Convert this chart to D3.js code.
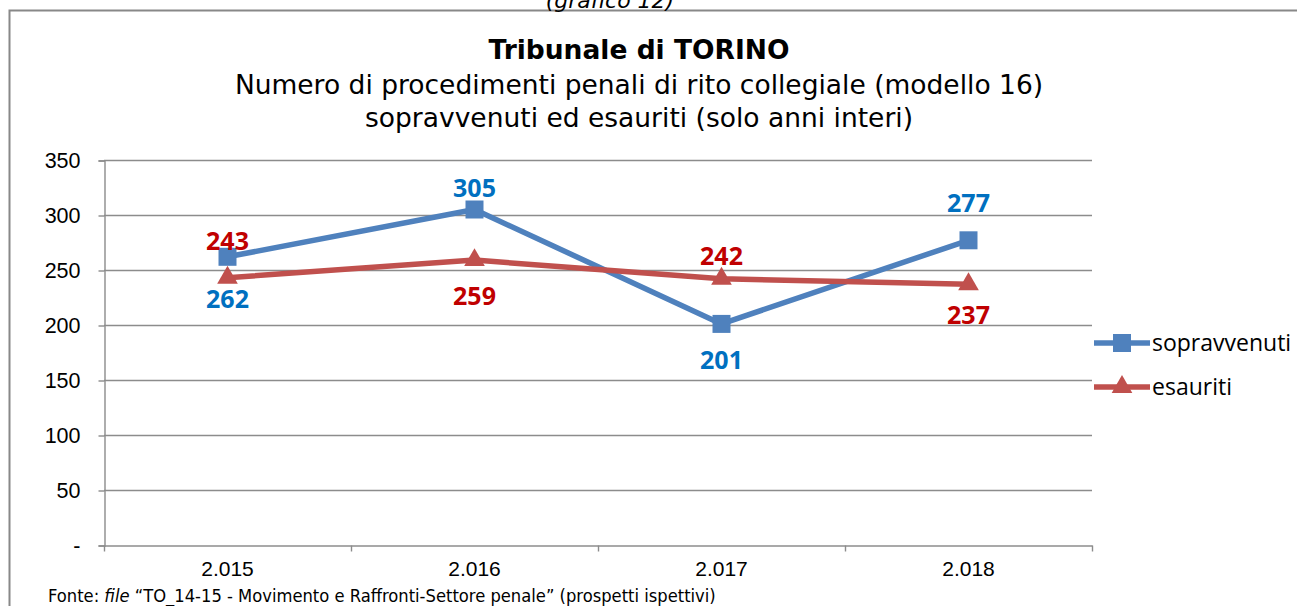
<!DOCTYPE html>
<html>
  <head>
    <meta charset="utf-8">
    <script src="https://d3js.org/d3.v7.min.js"></script>
    <style>
      body { margin: 0; background: #fff; }
      svg text { fill: #000; }
    </style>
  </head>
<body>
  <script type="text/javascript">
    // chart data
    var years = ["2.015", "2.016", "2.017", "2.018"];
    var sopravvenuti = [262, 305, 201, 277];
    var esauriti = [243, 259, 242, 237];
    var yTicks = [0, 50, 100, 150, 200, 250, 300, 350];

    // label baseline offsets from each point (layout, not data)
    var soprLabelDy = [51, -13, 45, -28];
    var esauLabelDy = [-28, 45, -14, 40];

    var W = 1297, H = 606;
    var plot = {left: 104, right: 1092, top: 160, bottom: 545};

    var svg = d3.select("body").append("svg")
        .attr("width", W).attr("height", H);

    // outer frame
    svg.append("rect")
        .attr("x", 9.5).attr("y", 10.5)
        .attr("width", W).attr("height", H)
        .attr("fill", "none").attr("stroke", "#888").attr("stroke-width", 2);

    svg.append("text")
        .attr("x", 610).attr("y", 8)
        .attr("text-anchor", "middle")
        .style("font-family", "DejaVu Sans").style("font-style", "italic")
        .style("font-size", "22px")
        .text("(grafico 12)");

    // titles
    var tfont = "DejaVu Sans";
    svg.append("text").attr("x", 639).attr("y", 59)
        .attr("text-anchor", "middle")
        .style("font-family", tfont).style("font-weight", "bold").style("font-size", "26.5px")
        .text("Tribunale di TORINO");
    svg.append("text").attr("x", 639).attr("y", 94)
        .attr("text-anchor", "middle")
        .style("font-family", tfont).style("font-size", "26.5px")
        .text("Numero di procedimenti penali di rito collegiale (modello 16)");
    svg.append("text").attr("x", 639).attr("y", 127)
        .attr("text-anchor", "middle")
        .style("font-family", tfont).style("font-size", "26.5px")
        .text("sopravvenuti ed esauriti (solo anni interi)");

    var x = d3.scaleBand().domain(years).range([plot.left, plot.right]);
    var y = d3.scaleLinear().domain([0, 350]).range([plot.bottom, plot.top]);
    var cx = function(d, i) { return x(years[i]) + x.bandwidth() / 2; };

    // gridlines
    svg.append("g").selectAll("line").data(yTicks.slice(1)).enter().append("line")
        .attr("x1", plot.left).attr("x2", plot.right)
        .attr("y1", function(d) { return y(d) + 0.5; })
        .attr("y2", function(d) { return y(d) + 0.5; })
        .attr("stroke", "#8c8c8c").attr("stroke-width", 1.4);

    // y axis
    var yAxis = svg.append("g")
        .attr("transform", "translate(" + (plot.left + 0.5) + ",0.5)")
        .call(d3.axisLeft(y).tickValues(yTicks).tickSize(6).tickPadding(18)
            .tickFormat(function(d) { return d === 0 ? "-" : d; }));
    yAxis.selectAll("text").style("font-family", "Liberation Sans").style("font-size", "21.5px");

    // x axis
    var xAxis = svg.append("g")
        .attr("transform", "translate(0," + (plot.bottom + 0.5) + ")")
        .call(d3.axisBottom(x).tickSize(0).tickPadding(16));
    xAxis.selectAll("text").style("font-family", "Liberation Sans").style("font-size", "21px");
    // category dividers
    xAxis.selectAll("line.div").data(d3.range(years.length + 1)).enter().append("line")
        .attr("class", "div")
        .attr("x1", function(i) { return plot.left + i * x.bandwidth() + 0.5; })
        .attr("x2", function(i) { return plot.left + i * x.bandwidth() + 0.5; })
        .attr("y1", 0).attr("y2", 6);
    svg.selectAll(".domain, .tick line, line.div")
        .attr("stroke", "#8c8c8c").attr("stroke-width", 1.4);

    var line = d3.line().x(cx).y(function(d) { return y(d); });

    function series(vals, color, shape, labelColor, dy) {
      svg.append("path").datum(vals)
          .attr("d", line).attr("fill", "none")
          .attr("stroke", color).attr("stroke-width", 5.5)
          .attr("stroke-linejoin", "round");
      svg.append("g").selectAll("path").data(vals).enter().append("path")
          .attr("d", shape)
          .attr("transform", function(d, i) { return "translate(" + cx(d, i) + "," + y(d) + ")"; })
          .attr("fill", color);
      svg.append("g").selectAll("text").data(vals).enter().append("text")
          .attr("x", cx)
          .attr("y", function(d, i) { return y(d) + dy[i]; })
          .attr("text-anchor", "middle")
          .style("font-family", "Open Sans").style("font-weight", "bold").style("font-size", "25px")
          .style("fill", labelColor)
          .text(function(d) { return d; });
    }

    var square = d3.symbol().type(d3.symbolSquare).size(324)();
    var triangle = d3.symbol().type(d3.symbolTriangle).size(185)();

    series(sopravvenuti, "#4F81BD", square, "#0070C0", soprLabelDy);
    series(esauriti, "#C0504D", triangle, "#C00000", esauLabelDy);

    // legend
    var legend = [
      {name: "sopravvenuti", color: "#4F81BD", shape: square, y: 343},
      {name: "esauriti", color: "#C0504D", shape: triangle, y: 387}
    ];
    var lg = svg.append("g").selectAll("g").data(legend).enter().append("g");
    lg.append("line")
        .attr("x1", 1094).attr("x2", 1150)
        .attr("y1", function(d) { return d.y; }).attr("y2", function(d) { return d.y; })
        .attr("stroke", function(d) { return d.color; }).attr("stroke-width", 5.5);
    lg.append("path")
        .attr("d", function(d) { return d.shape; })
        .attr("transform", function(d) { return "translate(1122," + d.y + ")"; })
        .attr("fill", function(d) { return d.color; });
    lg.append("text")
        .attr("x", 1152).attr("y", function(d) { return d.y + 8; })
        .style("font-family", "Open Sans").style("font-size", "23px")
        .text(function(d) { return d.name; });

    // footnote
    var fn = svg.append("text").attr("x", 48).attr("y", 602)
        .style("font-family", "DejaVu Sans Condensed, DejaVu Sans").style("font-size", "18.2px");
    fn.append("tspan").text("Fonte: ");
    fn.append("tspan").style("font-style", "italic").text("file");
    fn.append("tspan").text(" \u201cTO_14-15 - Movimento e Raffronti-Settore penale\u201d (prospetti ispettivi)");
  </script>
</body>
</html>
